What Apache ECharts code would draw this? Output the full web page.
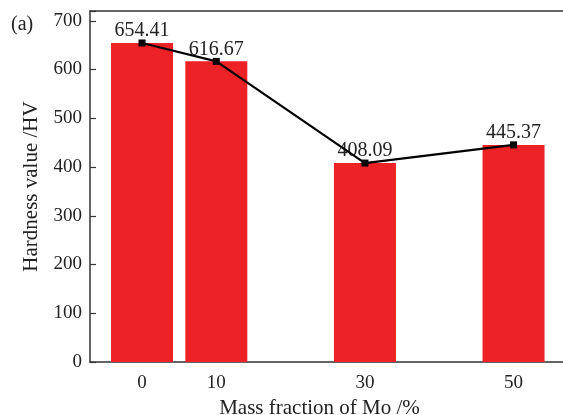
<!DOCTYPE html>
<html><head><meta charset="utf-8">
<script src="https://cdn.jsdelivr.net/npm/echarts@6/dist/echarts.min.js"></script>
<style>html,body{margin:0;padding:0;background:#fff}#c{width:563px;height:415px}</style>
</head><body><div id="c"></div>
<script>
const moFraction = [0, 10, 30, 50];
const hardness = [654.41, 616.67, 408.09, 445.37];
const yTicks = [0, 100, 200, 300, 400, 500, 600, 700];
const xTicks = [0, 10, 30, 50];

const pts = moFraction.map((x, i) => [x, hardness[i]]);
const FONT = 'Liberation Serif';
const chart = echarts.init(document.getElementById('c'), null, {renderer: 'canvas'});
chart.setOption({
  animation: false,
  backgroundColor: '#fff',
  title: {text: '(a)', left: 6, top: 10, textStyle: {fontFamily: FONT, fontSize: 20, fontWeight: 'normal', color: '#222'}},
  grid: {left: 90, top: 11, width: 483, height: 351, outerBoundsMode: 'none', containLabel: false, show: false},
  xAxis: [{
    type: 'value', min: -7, max: 58, interval: 1,
    name: 'Mass fraction of Mo /%', nameLocation: 'middle', nameGap: 31,
    nameTextStyle: {fontFamily: FONT, fontSize: 21, color: '#222', padding: [0, 24, 0, 0]},
    axisLine: {show: true, onZero: false, lineStyle: {color: '#333', width: 1.5}},
    axisTick: {show: false},
    splitLine: {show: false},
    axisLabel: {
      fontFamily: FONT, fontSize: 19, color: '#222', margin: 12,
      showMinLabel: false, showMaxLabel: false,
      formatter: v => xTicks.includes(v) ? String(v) : ''
    }
  }, {
    type: 'value', position: 'top', min: -7, max: 58,
    axisLine: {show: true, onZero: false, lineStyle: {color: '#333', width: 1.5}},
    axisTick: {show: false}, axisLabel: {show: false}, splitLine: {show: false}
  }],
  yAxis: {
    type: 'value', min: 0, max: 720, interval: 100,
    name: 'Hardness value /HV', nameLocation: 'middle', nameGap: 48,
    nameTextStyle: {fontFamily: FONT, fontSize: 21, color: '#222'},
    axisLine: {show: true, onZero: false, lineStyle: {color: '#333', width: 1.5}},
    axisTick: {show: true, inside: true, length: 6, lineStyle: {color: '#333', width: 1.2}},
    splitLine: {show: false},
    axisLabel: {
      fontFamily: FONT, fontSize: 19, color: '#222', margin: 8,
      formatter: v => yTicks.includes(v) ? String(v) : ''
    }
  },
  series: [
    {
      type: 'bar', data: pts, barWidth: 62,
      itemStyle: {color: '#ED2227'},
      label: {show: true, position: 'top', distance: 2, fontFamily: FONT, fontSize: 20, color: '#222',
        formatter: p => p.value[1].toFixed(2)},
      z: 2
    },
    {
      type: 'line', data: pts, symbol: 'rect', symbolSize: 7,
      lineStyle: {color: '#000', width: 2.2}, itemStyle: {color: '#000'},
      z: 3
    }
  ]
});
</script></body></html>
